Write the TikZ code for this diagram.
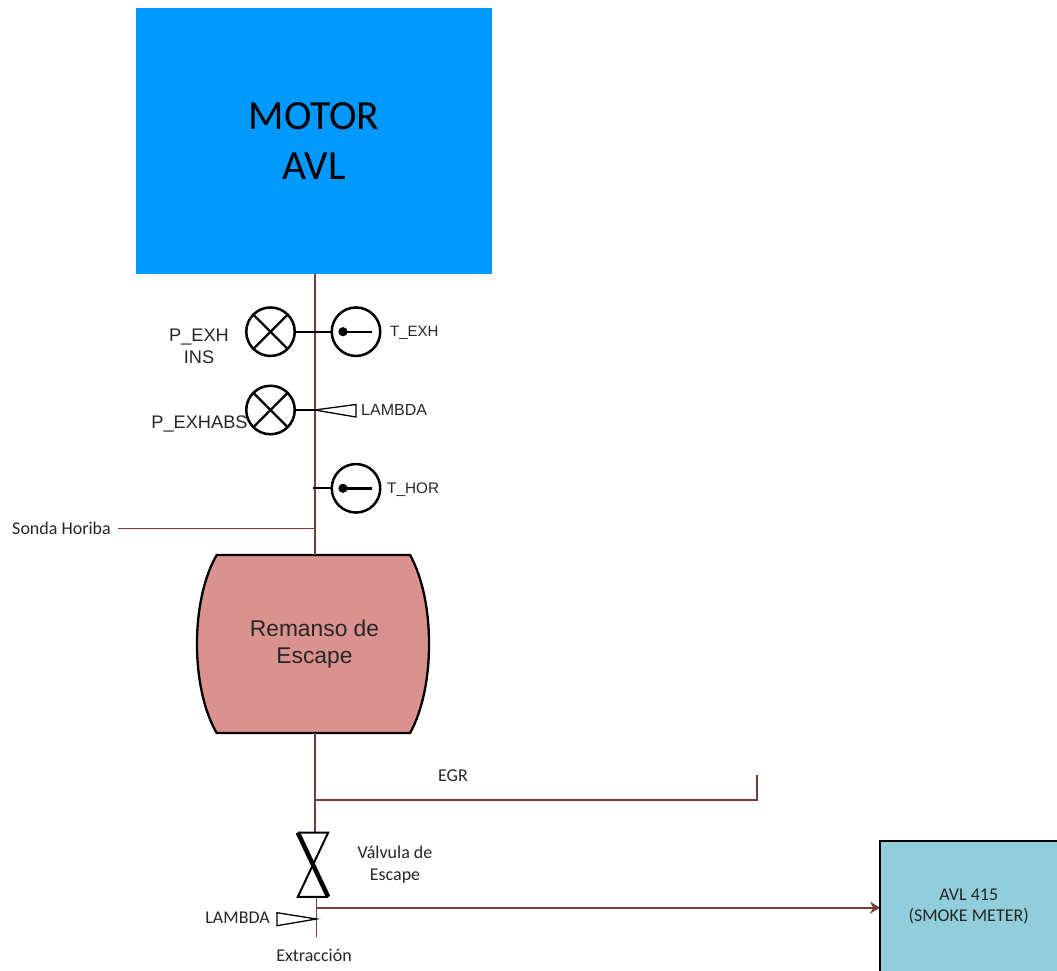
\documentclass[tikz,border=0pt]{standalone}
\usepackage{fontspec}
\setmainfont{Liberation Sans}
\newfontfamily\carlito{Carlito}
\definecolor{motorblue}{HTML}{0099FF}
\definecolor{tankred}{HTML}{D9928E}
\definecolor{meterblue}{HTML}{92CDDC}
\definecolor{wirered}{HTML}{7A3B3B}
\definecolor{labelgray}{HTML}{262626}
\usetikzlibrary{arrows.meta}
\tikzset{
  wire/.style={draw=wirered,line width=1.7pt},
  stub/.style={draw=black,line width=2.2pt},
  probe/.style={draw=black,line width=1.3pt},
  labelarial/.style={text=labelgray,inner sep=0pt,align=center},
  labelcalibri/.style={text=labelgray,inner sep=0pt,align=center,font=\carlito\fontsize{18}{22}\selectfont},
  gauge/.style={circle,draw=black,line width=2.5pt,minimum size=48.5pt,inner sep=0pt},
  pressure/.style={gauge,path picture={
    \draw[line width=2.2pt] (path picture bounding box.south west) -- (path picture bounding box.north east);
    \draw[line width=2.2pt] (path picture bounding box.north west) -- (path picture bounding box.south east);}},
  thermo/.style={gauge,path picture={
    \fill ([xshift=-13pt]path picture bounding box.center) circle (4.6pt);
    \draw[line width=2.4pt] ([xshift=-13pt]path picture bounding box.center) -- ([xshift=16pt]path picture bounding box.center);}}
}
\begin{document}
\begin{tikzpicture}[x=1pt,y=-1pt]
\useasboundingbox (0,0) rectangle (1057,971);
\node[fill=motorblue,minimum width=356pt,minimum height=266pt,inner sep=0pt,align=center,font=\carlito\fontsize{41.5}{50}\selectfont] (motor) at (314,141) {MOTOR\\AVL};
\fill[tankred] (216.7,555) .. controls (190.4,600) and (190.4,688) .. (216.7,733) -- (410,733) .. controls (435.4,688) and (435.4,600) .. (410,555) -- cycle;
\node[minimum width=232pt,minimum height=178pt,inner sep=0pt,align=center,text=labelgray,font=\fontsize{22.8}{27}\selectfont] (remanso) at (314.5,644) {Remanso de\\Escape};
\draw[line width=2.3pt] (216.7,555) .. controls (190.4,600) and (190.4,688) .. (216.7,733) -- (410,733) .. controls (435.4,688) and (435.4,600) .. (410,555) -- cycle;
\node[pressure] (pexhins) at (270.5,331.7) {};
\node[thermo] (texh) at (356,331.7) {};
\node[pressure] (pexhabs) at (270.5,410) {};
\node[thermo] (thor) at (356,488.3) {};
\node[minimum width=30pt,minimum height=64pt,inner sep=0pt] (valve) at (313,864.7) {};
\node[fill=meterblue,minimum width=177pt,minimum height=130pt,inner sep=0pt,anchor=north west,align=center,text=labelgray,font=\carlito\fontsize{18}{21}\selectfont] (meter) at (880,841) {AVL 415\\(SMOKE METER)};
\coordinate (pipetop) at (314.7,274);
\coordinate (lambdatip) at (pipetop |- pexhabs.east);
\coordinate (thortap) at (312.7,488.3);
\coordinate (sondaend) at (pipetop |- 0,528.5);
\coordinate (egrtap) at (pipetop |- 0,800);
\coordinate (egrcorner) at (757,800);
\coordinate (egrend) at (757,775);
\coordinate (valveout) at (316.5,896.7);
\coordinate (smoketap) at (316.5,907.7);
\coordinate (lowertip) at (316.5,919);
\coordinate (lowerend) at (316.5,937);
\node[labelcalibri,anchor=east] (sonda) at (111,528) {Sonda Horiba};
\coordinate (sondastart) at (118,528.5);
\draw[wire] (pipetop) -- (pipetop |- remanso.north);
\draw[wire] (sondastart) -- (sondaend);
\draw[wire] (pipetop |- remanso.south) -- (pipetop |- valve.north);
\draw[wire] (egrtap) -- (egrcorner) -- (egrend);
\draw[wire] (valveout) -- (lowerend);
\draw[wire,-{Stealth[length=10pt,width=12pt]}] (smoketap) -- (smoketap -| meter.west);
\draw[stub] (pexhins.east) -- (texh.west);
\draw[stub] (pexhabs.east) -- (lambdatip);
\draw[stub] (thortap) -- (thor.west);
\draw[probe] (lambdatip) -- (356,404.5) -- (356,417) -- cycle;
\draw[probe] (lowertip) -- (277,912.7) -- (277,925.7) -- cycle;
\draw[line width=2pt] (valve.north west) -- (valve.north east) -- (valve.south west) -- (valve.south east);
\draw[line width=4.5pt] (valve.north west) -- (valve.south east);
\draw[draw=black,line width=1.8pt] (meter.south west) -- (meter.north west) -- (meter.north east);
\node[labelarial,font=\fontsize{18.2}{22}\selectfont] (pexhinslabel) at (199,346) {P\_EXH\\INS};
\node[labelarial,font=\fontsize{18.2}{22}\selectfont] (pexhabslabel) at (199.5,424) {P\_EXHABS};
\node[labelarial,anchor=west,font=\fontsize{15}{18}\selectfont] (texhlabel) at (390,333) {T\_EXH};
\node[labelarial,anchor=west,font=\fontsize{16}{18}\selectfont] (lambdalabel) at (361,410) {LAMBDA};
\node[labelarial,anchor=west,font=\fontsize{15.3}{18}\selectfont] (thorlabel) at (387,490) {T\_HOR};
\node[labelcalibri] (egrlabel) at (453,776) {EGR};
\node[labelcalibri] (valvelabel) at (395,865) {Válvula de\\Escape};
\node[labelcalibri,anchor=east] (lowerlambda) at (270,918) {LAMBDA};
\node[labelcalibri] (extraccion) at (314,955) {Extracción};
\end{tikzpicture}
\end{document}
